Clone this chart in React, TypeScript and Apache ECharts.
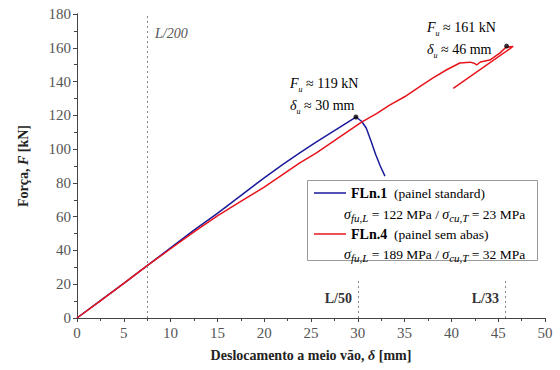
import React, { useEffect, useRef } from "react";
import * as echarts from "echarts";

const blueData: number[][] = [
  [0, 0], [2.5, 10.3], [5, 20.5], [7.5, 31], [10, 41.5], [12.5, 52], [15, 62], [17.5, 72.5],
  [20, 83], [22, 91], [23.8, 97.7], [25.5, 104], [27.5, 111], [29.8, 119],
  [30.4, 116.5], [30.9, 112.5], [31.4, 105], [31.9, 97], [32.4, 90], [32.9, 84],
];
const redData: number[][] = [
  [0, 0], [2.5, 10.2], [5, 20.5], [7.5, 31], [10, 41], [12.5, 51], [15, 60.5], [17.5, 69],
  [20, 77.5], [22, 85], [23.8, 91.8], [25.5, 97.5], [27.5, 105], [30.4, 116], [32, 121],
  [33.4, 126], [35, 131], [36.5, 136.5], [38, 142], [39.5, 147], [40.9, 151], [42, 151.5],
  [42.5, 150.7], [42.7, 149.8], [43.1, 151.6], [44.1, 152.7], [45.2, 157], [45.8, 160.2],
  [46.6, 160.8], [40.2, 136],
];
const peaks: number[][] = [[29.8, 119], [45.9, 161]];
const limitL200 = 7.5;
const limitL50 = 30;
const limitL33 = 45.7;
const limitTop = 22.5;

const FONT = "'Liberation Serif', 'Times New Roman', serif";

export default function App() {
  const ref = useRef<HTMLDivElement>(null);
  useEffect(() => {
    if (!ref.current) return;
    const chart = echarts.init(ref.current, null, { renderer: "svg" });
    const axisLine = { show: true, lineStyle: { color: "#444", width: 1 } };
    const dotted = { color: "#888", type: [2, 3] as any, width: 1 };
    const tickRich = { t: { fontFamily: FONT, fontSize: 15, color: "#555" } };
    const legendRich = {
      b: { fontFamily: FONT, fontWeight: "bold", fontSize: 14, color: "#222", lineHeight: 19, verticalAlign: "middle" },
      n: { fontFamily: FONT, fontSize: 13.5, color: "#444", lineHeight: 19, verticalAlign: "middle" },
      g: { fontFamily: FONT, fontSize: 14, fontStyle: "italic", color: "#444", lineHeight: 19, verticalAlign: "middle" },
      s: { fontFamily: FONT, fontSize: 11, fontStyle: "italic", color: "#444", lineHeight: 10, verticalAlign: "bottom" },
    };
    const annRich = {
      i: { fontFamily: FONT, fontSize: 14, fontStyle: "italic", color: "#333", lineHeight: 20, verticalAlign: "middle" },
      s: { fontFamily: FONT, fontSize: 8, fontStyle: "italic", color: "#333", lineHeight: 8, verticalAlign: "bottom" },
      n: { fontFamily: FONT, fontSize: 14, color: "#333", lineHeight: 20, verticalAlign: "middle" },
    };
    chart.setOption({
      animation: false,
      backgroundColor: "#fff",
      textStyle: { fontFamily: FONT },
      grid: { left: 77, right: 15, top: 14, bottom: 52 },
      xAxis: [
        {
          type: "value", min: 0, max: 50, interval: 5, position: "bottom",
          axisLine, splitLine: { show: false },
          axisTick: { show: true, length: 4, inside: false, lineStyle: { color: "#444" } },
          minorTick: { show: true, splitNumber: 2, length: 3, lineStyle: { color: "#444" } },
          axisLabel: { show: true, margin: 7, formatter: "{t|{value}}", rich: tickRich },
          name: "Deslocamento a meio vão, {i|δ} [mm]",
          nameLocation: "middle", nameGap: 30,
          nameTextStyle: {
            fontFamily: FONT, fontSize: 14, fontWeight: "bold", color: "#222",
            rich: { i: { fontFamily: FONT, fontSize: 14, fontStyle: "italic", color: "#222" } },
          },
        },
        {
          type: "value", min: 0, max: 50, interval: 5, position: "top",
          axisLine, splitLine: { show: false },
          axisTick: { show: true, length: 4, inside: true, lineStyle: { color: "#444" } },
          minorTick: { show: true, splitNumber: 2, length: 3, lineStyle: { color: "#444" } },
          axisLabel: { show: false },
        },
      ],
      yAxis: [
        {
          type: "value", min: 0, max: 180, interval: 20, position: "left",
          axisLine, splitLine: { show: false },
          axisTick: { show: true, length: 4, inside: false, lineStyle: { color: "#444" } },
          minorTick: { show: true, splitNumber: 2, length: 3, lineStyle: { color: "#444" } },
          axisLabel: { show: true, margin: 6, formatter: "{t|{value}}", rich: tickRich },
          name: "Força, {i|F} [kN]",
          nameLocation: "middle", nameGap: 47,
          nameTextStyle: {
            fontFamily: FONT, fontSize: 14, fontWeight: "bold", color: "#222",
            rich: { i: { fontFamily: FONT, fontSize: 14, fontStyle: "italic", color: "#222" } },
          },
        },
        {
          type: "value", min: 0, max: 180, interval: 20, position: "right",
          axisLine, splitLine: { show: false },
          axisTick: { show: true, length: 4, inside: true, lineStyle: { color: "#444" } },
          minorTick: { show: true, splitNumber: 2, length: 3, lineStyle: { color: "#444" } },
          axisLabel: { show: false },
        },
      ],
      series: [
        {
          type: "line", data: blueData, showSymbol: false, symbol: "none",
          lineStyle: { color: "#1a1a9c", width: 1.5 }, z: 3,
          markLine: {
            silent: true, symbol: "none", label: { show: false },
            lineStyle: dotted,
            data: [
              [{ coord: [limitL200, 0] }, { coord: [limitL200, 180] }],
              [{ coord: [limitL50, 0] }, { coord: [limitL50, limitTop] }],
              [{ coord: [limitL33, 0] }, { coord: [limitL33, limitTop] }],
            ],
          },
        },
        {
          type: "line", data: redData, showSymbol: false, symbol: "none",
          lineStyle: { color: "#e8141b", width: 1.5 }, z: 4,
        },
        {
          type: "scatter", data: peaks, symbol: "circle", symbolSize: 5,
          itemStyle: { color: "#000" }, z: 5,
        },
      ],
      graphic: [
        { type: "text", x: 155, y: 33, style: { text: "L/200", fontFamily: FONT, fontSize: 14, fontStyle: "italic", fill: "#555", verticalAlign: "middle" } },
        { type: "text", x: 352, y: 298, style: { text: "L/50", fontFamily: FONT, fontSize: 14, fontWeight: "bold", fill: "#333", align: "right", verticalAlign: "middle" } },
        { type: "text", x: 499, y: 298, style: { text: "L/33", fontFamily: FONT, fontSize: 14, fontWeight: "bold", fill: "#333", align: "right", verticalAlign: "middle" } },
        { type: "text", x: 290, y: 83, style: { text: "{i|F}{s|u}{n| ≈ 119 kN}", rich: annRich, verticalAlign: "middle" } },
        { type: "text", x: 290, y: 105, style: { text: "{i|δ}{s|u}{n| ≈ 30 mm}", rich: annRich, verticalAlign: "middle" } },
        { type: "text", x: 427, y: 27, style: { text: "{i|F}{s|u}{n| ≈ 161 kN}", rich: annRich, verticalAlign: "middle" } },
        { type: "text", x: 427, y: 49, style: { text: "{i|δ}{s|u}{n| ≈ 46 mm}", rich: annRich, verticalAlign: "middle" } },
        { type: "rect", shape: { x: 307.5, y: 180.5, width: 230, height: 80 }, style: { fill: "#fff", stroke: "#999", lineWidth: 1 }, z: 10 },
        { type: "line", shape: { x1: 314, y1: 193, x2: 346, y2: 193 }, style: { stroke: "#1a1a9c", lineWidth: 1.5 }, z: 11 },
        { type: "line", shape: { x1: 314, y1: 234, x2: 346, y2: 234 }, style: { stroke: "#e8141b", lineWidth: 1.5 }, z: 11 },
        { type: "text", x: 351, y: 193, z: 11, style: { text: "{b|FLn.1}{n|  (painel standard)}", rich: legendRich, verticalAlign: "middle" } },
        { type: "text", x: 344, y: 214, z: 11, style: { text: "{g|σ}{s|fu,L}{n| = 122 MPa / }{g|σ}{s|cu,T}{n| = 23 MPa}", rich: legendRich, verticalAlign: "middle" } },
        { type: "text", x: 351, y: 234, z: 11, style: { text: "{b|FLn.4}{n|  (painel sem abas)}", rich: legendRich, verticalAlign: "middle" } },
        { type: "text", x: 344, y: 254, z: 11, style: { text: "{g|σ}{s|fu,L}{n| = 189 MPa / }{g|σ}{s|cu,T}{n| = 32 MPa}", rich: legendRich, verticalAlign: "middle" } },
      ],
    });
    return () => chart.dispose();
  }, []);
  return <div ref={ref} style={{ width: 560, height: 370, position: "absolute", left: 0, top: 0 }} />;
}
